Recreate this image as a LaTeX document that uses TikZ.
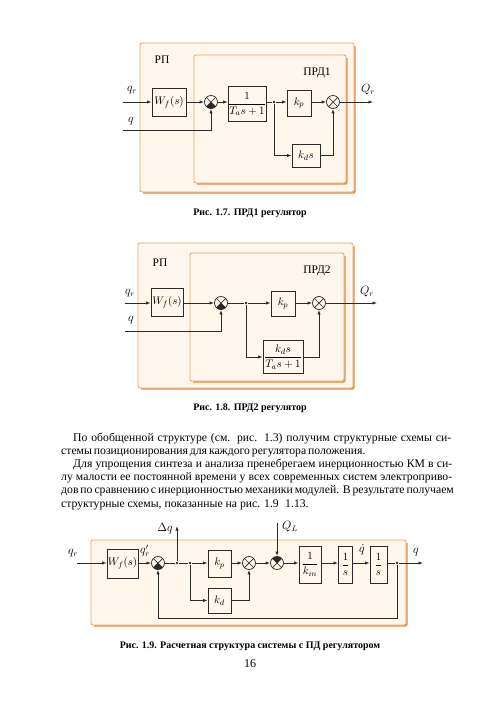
\documentclass[tikz,border=0pt]{standalone}
\usepackage{fontspec}
\setmainfont{Liberation Serif}
\usetikzlibrary{arrows.meta}
\definecolor{ln}{HTML}{2A2A2A}
\definecolor{orb}{HTML}{EAA868}
\definecolor{ors}{HTML}{E08C48}
\definecolor{crm}{HTML}{FFF6EC}
\newcommand\frbox[4]{%
  \draw[orb, line width=0.9pt, fill=crm, rounded corners=2pt] (#1,#2) rectangle (#3,#4);
  \draw[ors, line width=1.4pt, rounded corners=2pt] (#3+1,#2+3) -- (#3+1,#4+1) -- (#1+3,#4+1);}
\newcommand\xlines{\draw[ln, line width=0.7pt] (path picture bounding box.north west) -- (path picture bounding box.south east)
      (path picture bounding box.north east) -- (path picture bounding box.south west);}
\begin{document}
\begin{tikzpicture}[x=1pt,y=-1pt,
  blk/.style={draw=ln, line width=0.75pt, inner sep=0pt, font=\fontsize{11}{13}\selectfont},
  sumj/.style={circle, draw=ln, line width=0.75pt, minimum size=13pt, inner sep=0pt,
    path picture={\xlines}},
  sumb/.style={sumj, path picture={\fill[ln] (path picture bounding box.center) -- ++(-135:7pt) arc[start angle=-135,end angle=-45,radius=7pt] -- cycle; \xlines}},
  sumt/.style={sumj, path picture={\fill[ln] (path picture bounding box.center) -- ++(45:7pt) arc[start angle=45,end angle=135,radius=7pt] -- cycle; \xlines}},
  arr/.style={draw=ln, line width=0.75pt, -{Latex[length=4.5pt,width=3.2pt]}},
  wire/.style={draw=ln, line width=0.75pt},
  dot/.style={circle, fill=ln, inner sep=0pt, minimum size=2.8pt},
  lbl/.style={inner sep=0pt, font=\fontsize{11.5}{13}\selectfont},
  capt/.style={inner sep=0pt, anchor=base, font=\bfseries\fontsize{10}{12}\selectfont},
  txt/.style={inner sep=0pt, anchor=base west, font=\fontsize{11.7}{13.2}\selectfont}]
\useasboundingbox (0,0) rectangle (500,715);
\fill[white] (0,0) rectangle (500,715);

% ---------------- Figure 1.7
\frbox{140}{43}{354}{192}
\frbox{194}{55}{346}{183}
\node[lbl] (rp1) at (162,60) {РП};
\node[lbl] (prd1) at (317,73) {ПРД1};
\coordinate (in1) at (123,102);
\coordinate (qs1) at (123,130);
\coordinate (out1) at (373,102);
\node[blk, minimum width=34pt, minimum height=28pt] (wf1) at (169,102) {$W_f(s)$};
\node[sumb] (s11) at (211,102) {};
\node[blk, minimum width=36pt, minimum height=35pt] (ta1) at (247,104) {$\displaystyle\frac{1}{T_a s+1}$};
\node[dot] (b1) at (274,102) {};
\node[blk, minimum width=24pt, minimum height=26pt] (kp1) at (299,103) {$k_p$};
\node[sumj] (s12) at (333,102) {};
\node[blk, minimum width=28pt, minimum height=23pt] (kd1) at (306,155.5) {$k_d s$};
\draw[arr] (in1) -- (wf1);
\draw[arr] (wf1) -- (s11);
\draw[arr] (s11) -- (s11 -| ta1.west);
\draw[wire] (ta1.east |- b1) -- (b1);
\draw[arr] (b1) -- (b1 -| kp1.west);
\draw[arr] (kp1.east |- s12) -- (s12);
\draw[arr] (s12) -- (out1);
\draw[arr] (b1) |- (kd1);
\draw[arr] (kd1) -| (s12);
\draw[arr] (qs1) -| (s11);
\node[lbl] (qr1) at (132,90) {$q_r$};
\node[lbl] (q1) at (131,121) {$q$};
\node[lbl] (Qr1) at (368,90) {$Q_r$};
\node[capt] (cap1) at (250,215) {Рис. 1.7. ПРД1 регулятор};

% ---------------- Figure 1.8
\frbox{138}{243}{353}{388}
\frbox{190}{253}{344}{381}
\node[lbl] (rp2) at (160,263) {РП};
\node[lbl] (prd2) at (317,271) {ПРД2};
\coordinate (in2) at (125,303);
\coordinate (qs2) at (125,331);
\coordinate (out2) at (377,303);
\node[blk, minimum width=32pt, minimum height=28pt] (wf2) at (167,302) {$W_f(s)$};
\node[sumb] (s21) at (221,303) {};
\node[dot] (b2) at (246,303) {};
\node[blk, minimum width=24pt, minimum height=25pt] (kp2) at (283,303.5) {$k_p$};
\node[sumj] (s22) at (319,303) {};
\node[blk, minimum width=40pt, minimum height=33pt] (kd2) at (283,357) {$\displaystyle\frac{k_d s}{T_a s+1}$};
\draw[arr] (in2) -- (in2 -| wf2.west);
\draw[arr] (wf2.east |- s21) -- (s21);
\draw[wire] (s21) -- (b2);
\draw[arr] (b2) -- (b2 -| kp2.west);
\draw[arr] (kp2.east |- s22) -- (s22);
\draw[arr] (s22) -- (out2);
\draw[arr] (b2) |- (kd2);
\draw[arr] (kd2) -| (s22);
\draw[arr] (qs2) -| (s21);
\node[lbl] (qr2) at (130,293) {$q_r$};
\node[lbl] (q2) at (131,320) {$q$};
\node[lbl] (Qr2) at (367,292) {$Q_r$};
\node[capt] (cap2) at (250,410) {Рис. 1.8. ПРД2 регулятор};

% ---------------- Text
\node[txt] (t1) at (73,441) {\makebox[378pt][s]{По обобщенной структуре (см. рис. 1.3) получим структурные схемы си-}};
\node[txt] (t2) at (61,454.2) {\makebox[296pt][s]{стемы позиционирования для каждого регулятора положения.}};
\node[txt] (t3) at (73,467.4) {\makebox[379pt][s]{Для упрощения синтеза и анализа пренебрегаем инерционностью КМ в си-}};
\node[txt] (t4) at (61,480.6) {\makebox[391pt][s]{лу малости ее постоянной времени у всех современных систем электроприво-}};
\node[txt] (t5) at (61,493.8) {\makebox[386pt][s]{дов по сравнению с инерционностью механики модулей. В результате получаем}};
\node[txt] (t6) at (61,507) {структурные схемы, показанные на рис. 1.9\hspace{0.3em} 1.13.};

% ---------------- Figure 1.9
\frbox{91}{540}{406}{625}
\coordinate (in3) at (77,563);
\coordinate (dqe) at (177,526);
\coordinate (qls) at (277,523);
\coordinate (out3) at (423,563);
\coordinate (fbl) at (397,618);
\node[blk, minimum width=31pt, minimum height=29pt] (wf3) at (122.5,563.5) {$W_f(s)$};
\node[sumb] (s31) at (158,563) {};
\node[dot] (dq) at (177,563) {};
\node[dot] (b3) at (190,563) {};
\node[blk, minimum width=23pt, minimum height=27pt] (kp3) at (219.5,563.5) {$k_p$};
\node[sumj] (s32) at (249,563) {};
\node[sumt] (s33) at (277,563) {};
\node[blk, minimum width=23pt, minimum height=25pt] (kd3) at (219.5,600.5) {$k_d$};
\node[blk, minimum width=22pt, minimum height=37pt] (kin) at (310,564.5) {$\displaystyle\frac{1}{k_{in}}$};
\node[blk, minimum width=14pt, minimum height=37pt] (is1) at (345.5,564.5) {$\displaystyle\frac{1}{s}$};
\node[blk, minimum width=17pt, minimum height=37pt] (is2) at (378.5,564.5) {$\displaystyle\frac{1}{s}$};
\node[dot] (fb) at (397,563) {};
\draw[arr] (in3) -- (in3 -| wf3.west);
\draw[arr] (wf3.east |- s31) -- (s31);
\draw[wire] (s31) -- (dq);
\draw[wire] (dq) -- (b3);
\draw[arr] (dq) -- (dqe);
\draw[arr] (b3) -- (b3 -| kp3.west);
\draw[arr] (kp3.east |- s32) -- (s32);
\draw[arr] (b3) |- (kd3);
\draw[arr] (kd3) -| (s32);
\draw[arr] (s32) -- (s33);
\draw[arr] (qls) -- (s33);
\draw[arr] (s33) -- (s33 -| kin.west);
\draw[arr] (kin.east |- s33) -- (s33 -| is1.west);
\draw[arr] (is1.east |- s33) -- (s33 -| is2.west);
\draw[wire] (is2.east |- fb) -- (fb);
\draw[arr] (fb) -- (out3);
\draw[arr] (fb) -- (fbl) -| (s31);
\node[lbl] (qr3) at (73,553) {$q_r$};
\node[lbl] (qrp3) at (145,551) {$q_r'$};
\node[lbl] (dql) at (165,529) {$\Delta q$};
\node[lbl] (qll) at (290,527) {$Q_L$};
\node[lbl] (qd3) at (362,550) {$\dot q$};
\node[lbl] (q3) at (416,552) {$q$};
\node[capt] (cap3) at (250,648) {Рис. 1.9. Расчетная структура системы с ПД регулятором};
\node[inner sep=0pt, anchor=base, font=\fontsize{12}{14}\selectfont] (pg) at (250,667) {16};
\end{tikzpicture}
\end{document}
